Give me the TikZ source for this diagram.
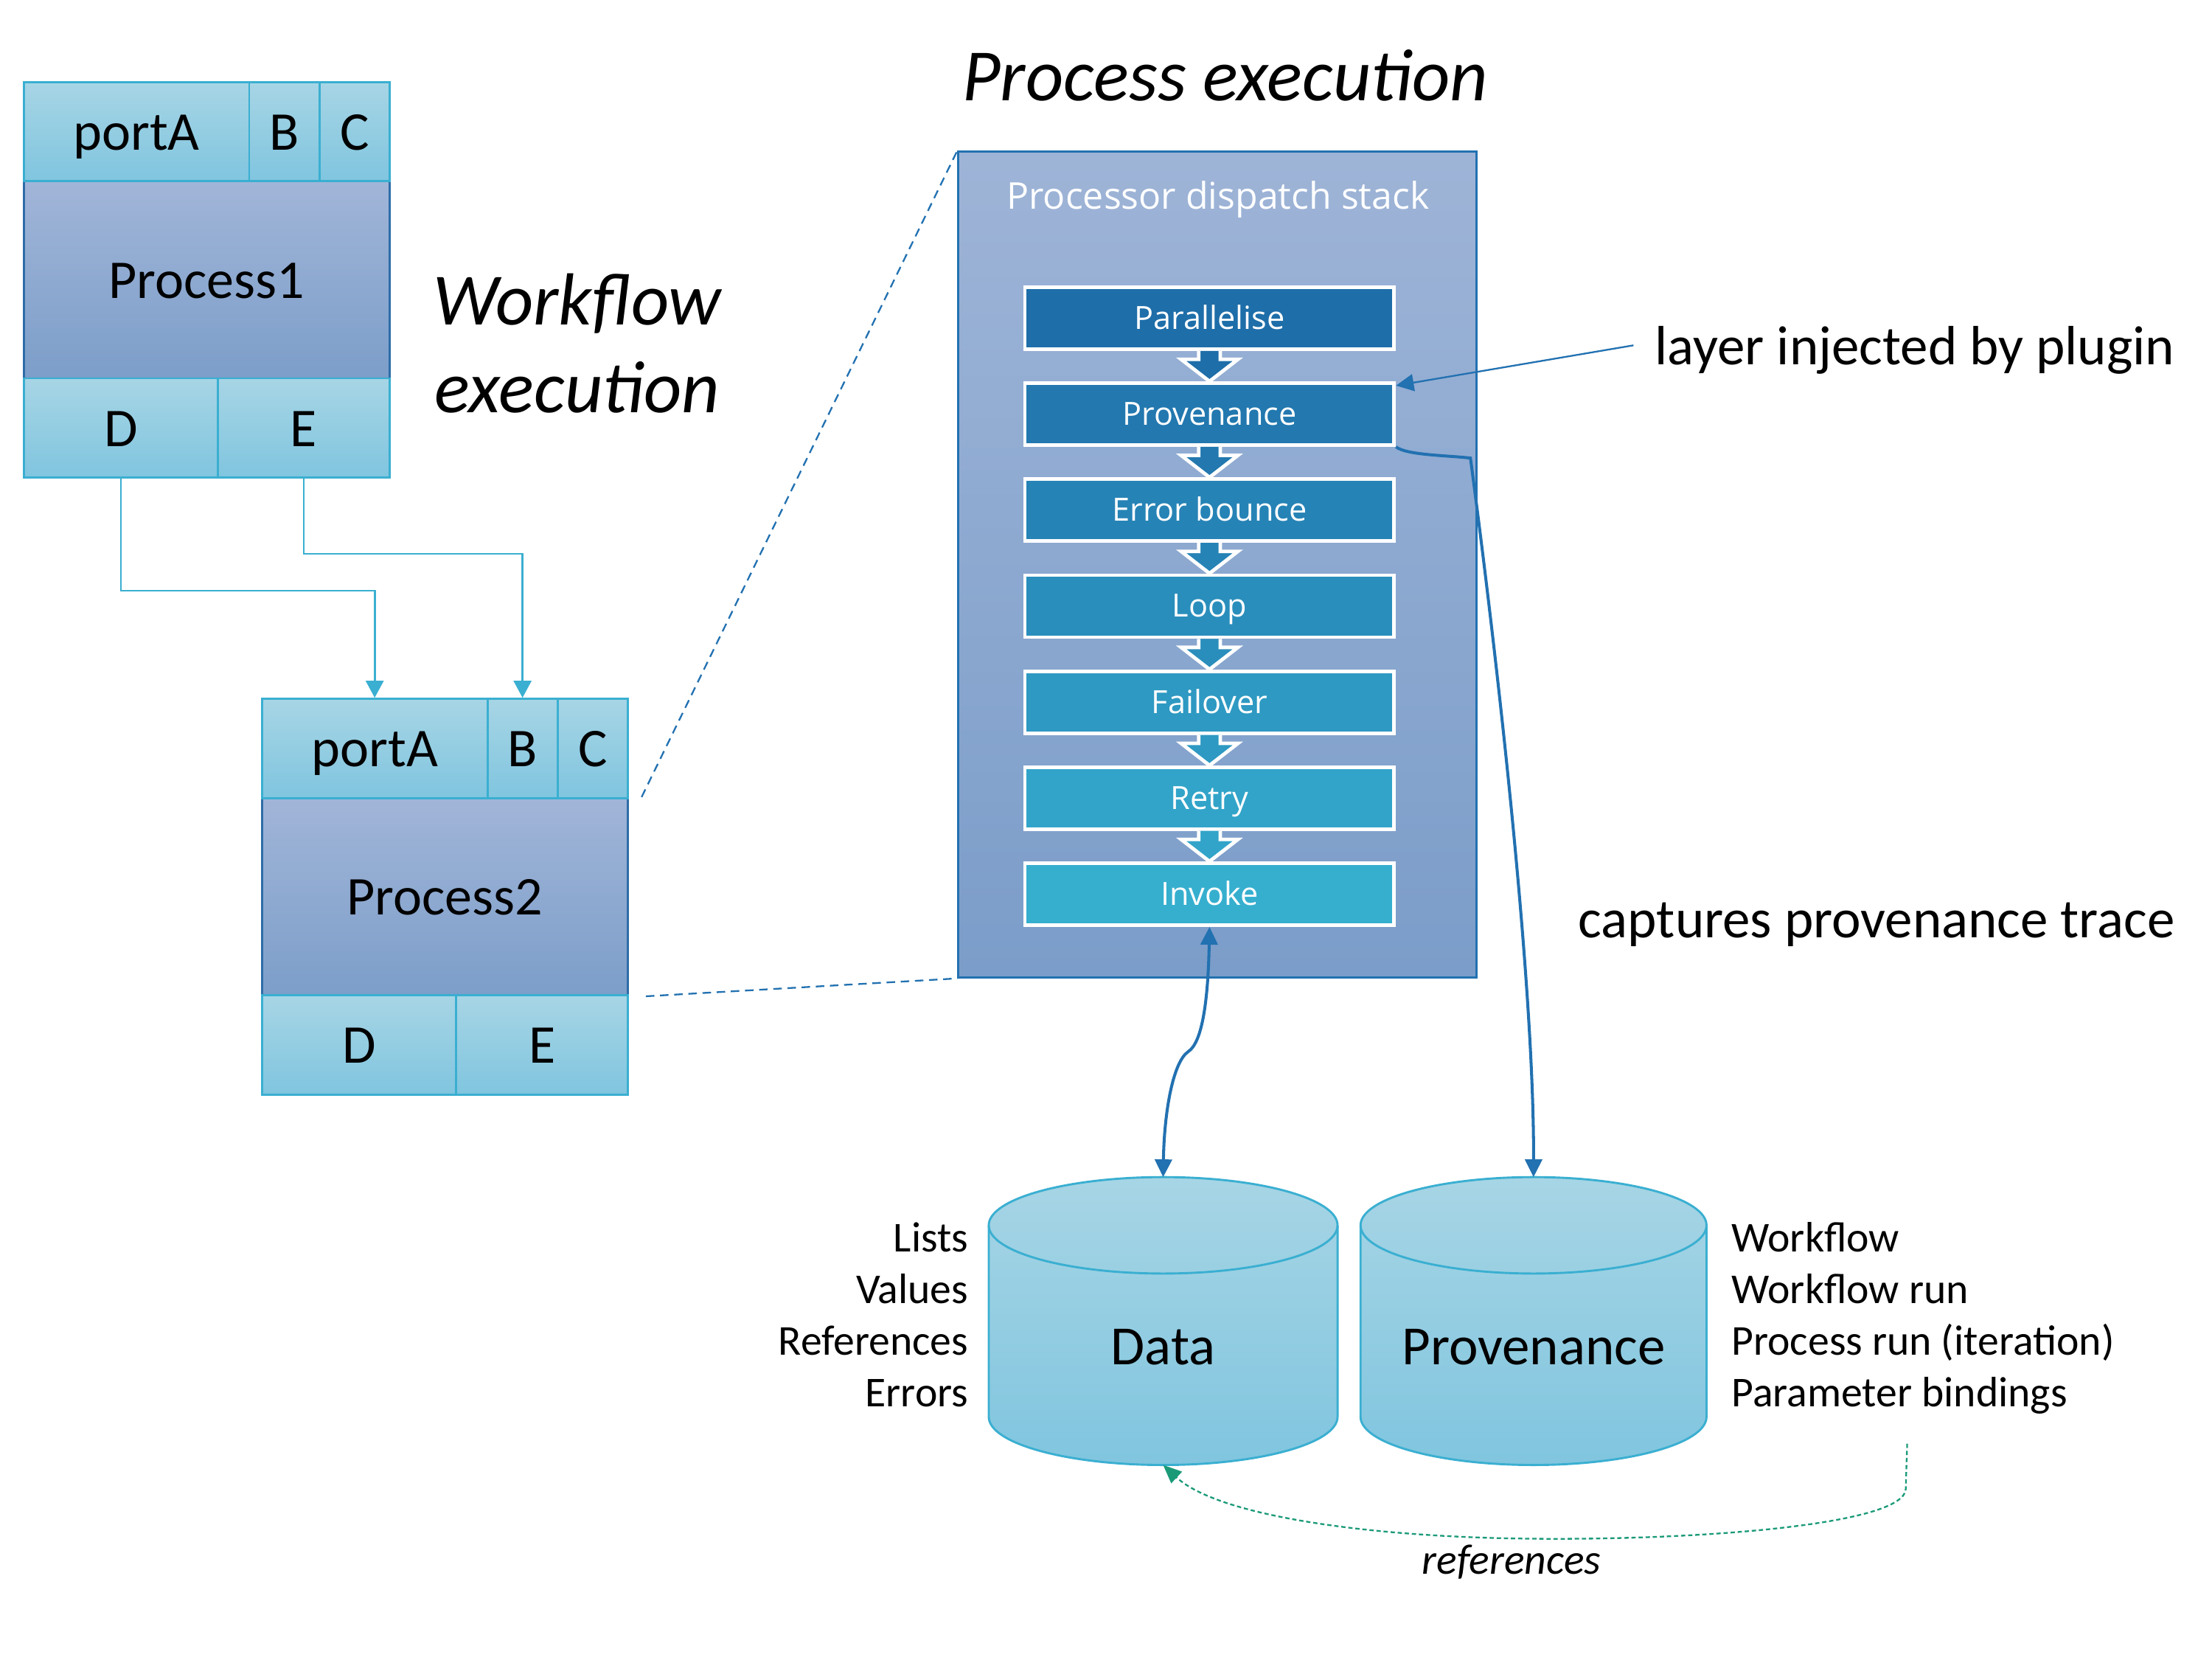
\documentclass[tikz,border=0pt]{standalone}
\usepackage{fontspec}
\setmainfont{Carlito}
\newfontfamily\stackfont{Open Sans}
\usetikzlibrary{arrows.meta,calc}

\definecolor{portTop}{HTML}{A7D5E5}
\definecolor{portBot}{HTML}{80C5DF}
\definecolor{portLine}{HTML}{3AAFD1}
\definecolor{procTop}{HTML}{A1B5D8}
\definecolor{procBot}{HTML}{7C9EC9}
\definecolor{procLine}{HTML}{2E6DA8}
\definecolor{stackTop}{HTML}{9EB4D7}
\definecolor{stackBot}{HTML}{7B9DC9}
\definecolor{layTop}{HTML}{1E6EA9}
\definecolor{layBot}{HTML}{36AFCF}
\definecolor{arrowBlue}{HTML}{2271B1}
\definecolor{refGreen}{HTML}{1B9A78}

\tikzset{
  big/.style={font=\fontsize{38.5}{40}\selectfont, text height=26pt, text depth=0pt},
  port/.style={big, draw=portLine, line width=1.5pt, top color=portTop, bottom color=portBot,
    minimum height=70pt, inner sep=0pt, anchor=north west},
  proc/.style={big, draw=procLine, line width=1.5pt, top color=procTop, bottom color=procBot,
    minimum width=258pt, minimum height=139pt, inner sep=0pt, anchor=north west},
  stackbox/.style={draw=arrowBlue, line width=1.5pt, top color=stackTop, bottom color=stackBot,
    minimum width=365.5pt, minimum height=582.3pt, inner sep=0pt, anchor=north west},
  layer/.style={draw=white, line width=2.5pt, minimum width=260.5pt, minimum height=43.7pt,
    inner sep=0pt, text=white, font=\stackfont\fontsize{22.5}{24}\selectfont,
    text height=15.5pt, text depth=0pt},
  flowarrow/.style={draw=white, line width=2.5pt, line join=miter},
  cyl/.style={draw=portLine, line width=1.5pt, top color=portTop, bottom color=portBot},
  wire/.style={portLine, line width=1.5pt, -{Triangle[length=12pt,width=12.5pt]}},
  link/.style={arrowBlue, line width=2.1pt},
  blueTip/.tip={Triangle[length=12.5pt,width=12pt]},
  zoomline/.style={arrowBlue, line width=1.2pt, dash pattern=on 6pt off 4pt},
  title/.style={font=\itshape\fontsize{52}{60}\selectfont, anchor=base},
  note/.style={font=\fontsize{39}{40}\selectfont},
  item/.style={font=\fontsize{30}{32}\selectfont},
}

\begin{document}
\begin{tikzpicture}[x=1pt,y=-1pt]
  \useasboundingbox (0,0) rectangle (1560,1170);

  % the two processes of the workflow
  \foreach \n/\px/\py in {1/16/57, 2/184/492}{
    \node[proc] (p\n-body) at (\px,\py+70) {Process\n};
    \node[port, minimum width=159pt] (p\n-A) at (\px,\py) {portA};
    \node[port, minimum width=49.5pt] (p\n-B) at (\px+159,\py) {B};
    \node[port, minimum width=49.5pt] (p\n-C) at (\px+208.5,\py) {C};
    \node[port, minimum width=137pt] (p\n-D) at (\px,\py+209) {D};
    \node[port, minimum width=121pt] (p\n-E) at (\px+137,\py+209) {E};
  }
  \draw[wire] (p1-D.south) -- ++(0,79) -| (p2-A.north);
  \draw[wire] (p1-E.south) -- ++(0,53) -| (p2-B.north);

  \node[title] (wf1) at (407,229) {Workflow};
  \node[title] (wf2) at (407,291) {execution};

  % dispatch stack
  \node[title] (pxtitle) at (864,71) {Process execution};
  \node[stackbox] (stack) at (675.2,106.1) {};
  \node[text=white, font=\stackfont\fontsize{26}{30}\selectfont, anchor=base] (stacktitle) at (859,147.2) {Processor dispatch stack};

  \foreach \name/\txt [count=\i from 0] in {par/Parallelise, prov/Provenance, err/Error bounce,
      loop/Loop, fail/Failover, retry/Retry, inv/Invoke}{
    \pgfmathtruncatemacro\mix{\i*100/6}
    \node[layer, fill=layBot!\mix!layTop] (\name) at (853,{224.3+67.7*\i}) {\txt};
  }
  \foreach \a/\b [count=\i from 0] in {par/prov, prov/err, err/loop, loop/fail, fail/retry, retry/inv}{
    \pgfmathtruncatemacro\mix{\i*100/6}
    \filldraw[flowarrow, fill=layBot!\mix!layTop]
      ($(\a.south)+(-7.6,0)$) -- ($(\a.south)+(-7.6,6)$) -- ($(\a.south)+(-20,6)$) -- (\b.north)
      -- ($(\a.south)+(20,6)$) -- ($(\a.south)+(7.6,6)$) -- ($(\a.south)+(7.6,0)$);
  }

  \draw[zoomline] ($(p2-body.north east)+(9,0)$) -- (stack.north west);
  \draw[zoomline] ($(p2-body.south east)+(12,0)$) -- (stack.south west);

  % stores
  \path[cyl] (697.3,864) -- (697.3,999) arc[start angle=180, end angle=360, x radius=123pt, y radius=34pt]
    -- (943.3,864) arc[start angle=0, end angle=180, x radius=123pt, y radius=34pt] -- cycle;
  \draw[portLine, line width=1.5pt] (697.3,864) arc[start angle=180, end angle=360, x radius=123pt, y radius=34pt];
  \path[cyl] (959.5,864) -- (959.5,999) arc[start angle=180, end angle=360, x radius=122pt, y radius=34pt]
    -- (1203.5,864) arc[start angle=0, end angle=180, x radius=122pt, y radius=34pt] -- cycle;
  \draw[portLine, line width=1.5pt] (959.5,864) arc[start angle=180, end angle=360, x radius=122pt, y radius=34pt];
  \coordinate (dataTop) at (820.3,830);
  \coordinate (dataBot) at (820.3,1033);
  \coordinate (provTop) at (1081.5,830);
  \node[note, anchor=base] (data) at (820.3,962) {Data};
  \node[note, anchor=base] (provdb) at (1081.5,962) {Provenance};

  \foreach \txt [count=\i from 0] in {Lists, Values, References, Errors}
    \node[item, anchor=base east, inner sep=0pt] (left\i) at (683,{882.5+36.5*\i}) {\txt};
  \foreach \txt [count=\i from 0] in {Workflow, Workflow run, Process run (iteration), Parameter bindings}
    \node[item, anchor=base west, inner sep=0pt] (right\i) at (1221,{882.5+36.5*\i}) {\txt};

  % annotations
  \node[note, anchor=base west, inner sep=0pt] (inj) at (1167,257) {layer injected by plugin};
  \coordinate (injStart) at (1152,243.5);
  \draw[arrowBlue, line width=1.2pt, -{blueTip}] (injStart) -- ($(prov.north east)+(0,3)$);

  \node[note, anchor=base west, inner sep=0pt] (capt) at (1113,661) {captures provenance trace};
  \draw[link, -{blueTip}] (prov.south east) .. controls (992,321) and (1020,321) .. (1037,323)
    .. controls (1050,420) and (1082,680) .. (provTop);

  \draw[link, {blueTip}-{blueTip}] (inv.south) .. controls (852,705) and (848,735) .. (838,741.5)
    .. controls (827,749) and (821,785) .. (dataTop);

  \coordinate (refStart) at (1345,1018);
  \draw[refGreen, line width=1.2pt, dash pattern=on 3pt off 2pt, -{Triangle[length=13pt,width=11pt]}]
    (refStart) -- (1344,1050) .. controls (1343,1075) and (1200,1086) .. (1083,1085)
    .. controls (960,1084) and (858,1068) .. (dataBot);
  \node[item, font=\itshape\fontsize{30}{32}\selectfont, anchor=base] (refs) at (1066,1110) {references};
\end{tikzpicture}
\end{document}
